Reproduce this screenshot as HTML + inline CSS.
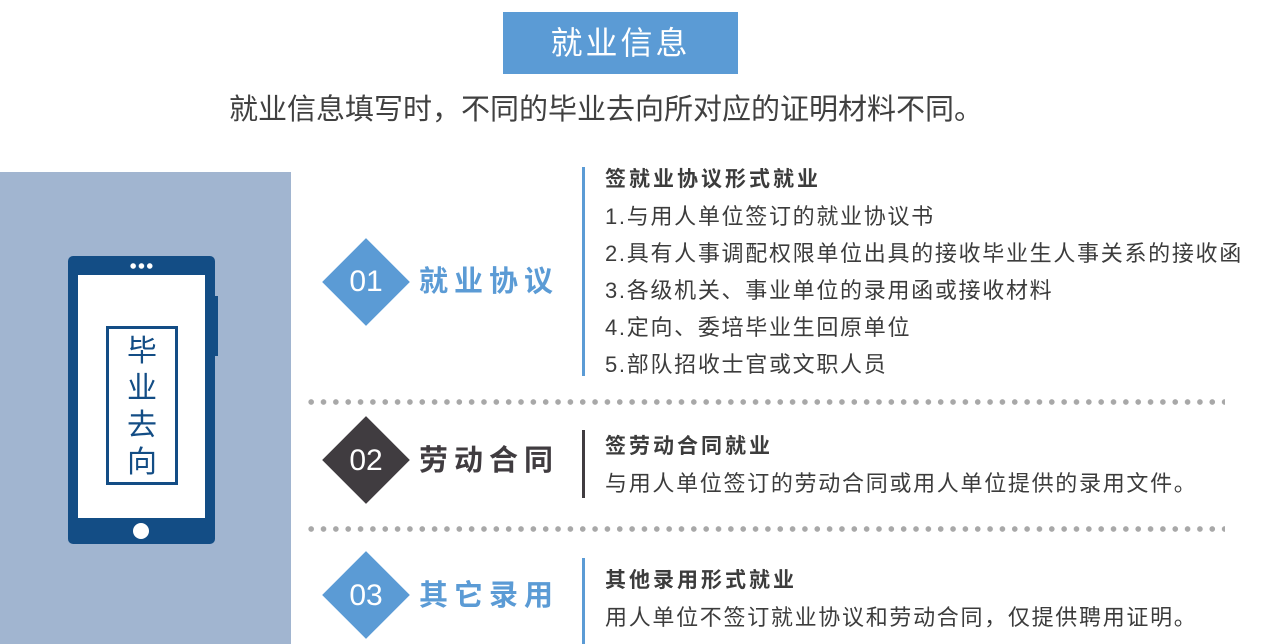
<!DOCTYPE html>
<html><head><meta charset="utf-8"><style>
*{margin:0;padding:0;box-sizing:border-box}
body{width:1269px;height:644px;position:relative;background:#fff;overflow:hidden;font-family:"Liberation Sans","Noto Sans CJK SC",sans-serif;color:#3c3c3c}
.a{position:absolute;white-space:nowrap}
.dia{position:absolute;width:62px;height:62px;transform:rotate(45deg)}
.num{position:absolute;width:90px;text-align:center;color:#fff;font-size:30px;line-height:40px}
.lab{position:absolute;font-size:29px;font-weight:bold;letter-spacing:6px;line-height:40px}
.vl{position:absolute;left:582px;width:3px}
.dots{position:absolute;left:305px;width:920px;height:6px;background:radial-gradient(circle,#a8a8a8 2.6px,transparent 3px) 0 0/12.35px 6px repeat-x}
.t{position:absolute;left:605px;font-size:22px;line-height:37px;white-space:nowrap;letter-spacing:1.7px}
.h{font-weight:bold;font-size:21px;letter-spacing:3px}
</style></head><body>
<div class="a" style="left:503px;top:12px;width:235px;height:62px;background:#5b9bd5;color:#fff;font-size:32px;text-align:center;line-height:62px;letter-spacing:3px">就业信息</div>
<div class="a" style="left:229px;top:90px;font-size:29px;line-height:40px;color:#404040">就业信息填写时，不同的毕业去向所对应的证明材料不同。</div>

<div class="a" style="left:0;top:172px;width:291px;height:472px;background:#a1b5d0"></div>
<div class="a" style="left:68px;top:256px;width:147px;height:288px;background:#134d85;border-radius:5px"></div>
<div class="a" style="left:213px;top:296px;width:5px;height:60px;background:#134d85"></div>
<div class="a" style="left:78px;top:275px;width:127px;height:243px;background:#fff"></div>
<div class="a" style="left:129px;top:263px;width:25px;height:6px;background:radial-gradient(circle,#fff 2.5px,transparent 3px) 0 0/8.3px 6px repeat-x"></div>
<div class="a" style="left:133px;top:523px;width:16px;height:16px;background:#fff;border-radius:50%"></div>
<div class="a" style="left:106px;top:326px;width:72px;height:159px;border:3px solid #134d85;color:#134d85;font-size:30px;line-height:37px;text-align:center;padding-top:4px;white-space:normal;width:72px">毕<br>业<br>去<br>向</div>

<div class="dia" style="left:335px;top:251px;background:#5b9bd5"></div>
<div class="num" style="left:321px;top:262px">01</div>
<div class="lab" style="left:419px;top:262px;color:#5b9bd5">就业协议</div>
<div class="dia" style="left:335px;top:429px;background:#403c40"></div>
<div class="num" style="left:321px;top:441px">02</div>
<div class="lab" style="left:419px;top:441px;color:#403c40">劳动合同</div>
<div class="dia" style="left:335px;top:564px;background:#5b9bd5"></div>
<div class="num" style="left:321px;top:576px">03</div>
<div class="lab" style="left:419px;top:576px;color:#5b9bd5">其它录用</div>

<div class="vl" style="top:167px;height:209px;background:#5b9bd5"></div>
<div class="vl" style="top:430px;height:68px;background:#403c40"></div>
<div class="vl" style="top:558px;height:86px;background:#5b9bd5"></div>

<div class="dots" style="top:399px"></div>
<div class="dots" style="top:526px"></div>

<div class="t" style="top:160px"><span class="h">签就业协议形式就业</span><br>1.与用人单位签订的就业协议书<br>2.具有人事调配权限单位出具的接收毕业生人事关系的接收函<br>3.各级机关、事业单位的录用函或接收材料<br>4.定向、委培毕业生回原单位<br>5.部队招收士官或文职人员</div>
<div class="t" style="top:427px"><span class="h">签劳动合同就业</span><br>与用人单位签订的劳动合同或用人单位提供的录用文件。</div>
<div class="t" style="top:561px"><span class="h">其他录用形式就业</span><br>用人单位不签订就业协议和劳动合同，仅提供聘用证明。</div>
</body></html>
